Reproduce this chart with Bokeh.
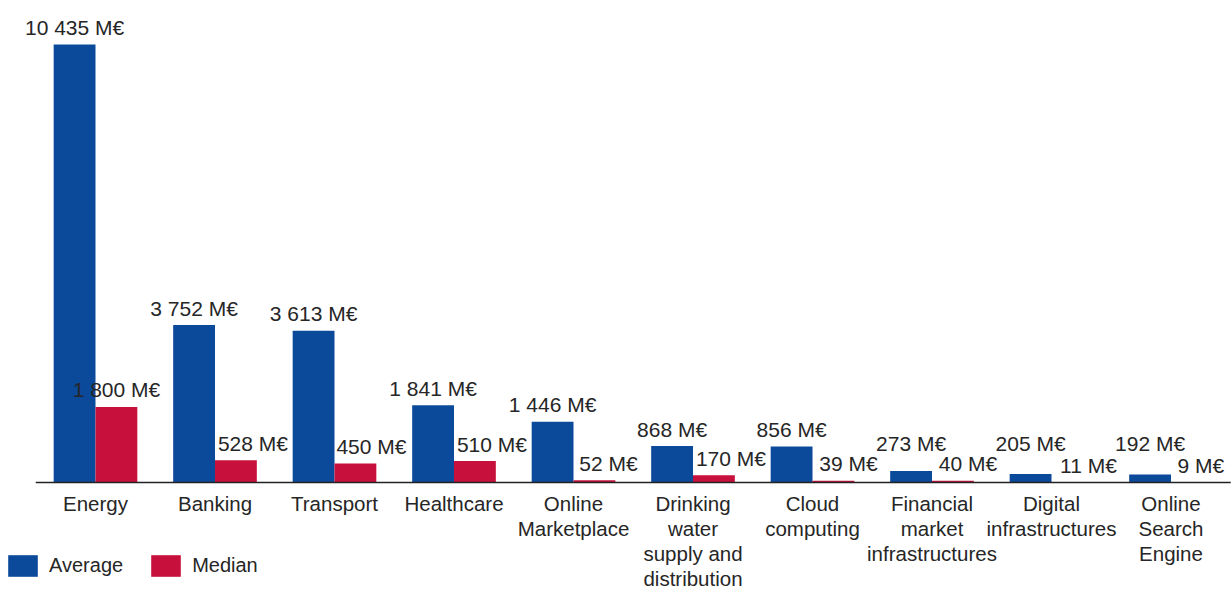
import numpy as np
from bokeh.plotting import figure
from bokeh.models import Range1d, ColumnDataSource
from bokeh.core.properties import value
from bokeh.embed import file_html
from bokeh.resources import INLINE

# ---- data ----
categories = ["Energy", "Banking", "Transport", "Healthcare",
              "Online\nMarketplace", "Drinking\nwater\nsupply and\ndistribution",
              "Cloud\ncomputing", "Financial\nmarket\ninfrastructures",
              "Digital\ninfrastructures", "Online\nSearch\nEngine"]
average = [10435, 3752, 3613, 1841, 1446, 868, 856, 273, 205, 192]
median = [1800, 528, 450, 510, 52, 170, 39, 40, 11, 9]

# ---- style ----
BLUE = "#0b4a9b"
RED = "#c8103c"
TEXT = "#262626"
FONT = "Liberation Sans"
W, H = 1232, 590
group_px = 119.5          # pixels per category
first_center_px = 95      # pixel position of first category center
baseline_px_from_bottom = 108
top_px = 44               # pixel of tallest bar top
bar_w = 0.35
median_label_dx = [0, 17, 16, 17, 14, 17, 15, 15, 16, 9]
avg_label_min_px = 22     # average labels never sit lower than this above baseline


def fmt(v):
    return f"{v:,}".replace(",", " ") + " M€"


n = len(categories)
idx = np.arange(n)
k = (H - baseline_px_from_bottom - top_px) / max(average)   # px per unit
y_start = -baseline_px_from_bottom / k
y_end = (H - baseline_px_from_bottom) / k
x_start = -first_center_px / group_px
x_end = x_start + W / group_px

p = figure(width=W, height=H, output_backend="svg", toolbar_location=None,
           x_range=Range1d(x_start, x_end), y_range=Range1d(y_start, y_end),
           x_axis_location=None, y_axis_location=None, min_border=0)
p.grid.visible = False
p.outline_line_color = None
p.background_fill_color = "white"

src = ColumnDataSource(dict(
    xa=idx - bar_w / 2, xm=idx + bar_w / 2, avg=average, med=median,
    ya=np.maximum(np.array(average, dtype=float), avg_label_min_px / k),
    la=[fmt(v) for v in average], lm=[fmt(v) for v in median],
    dx=median_label_dx, xc=idx, cat=categories))

p.vbar(x="xa", top="avg", width=bar_w, source=src, fill_color=BLUE,
       line_color=None, legend_label="Average")
p.vbar(x="xm", top="med", width=bar_w, source=src, fill_color=RED,
       line_color=None, legend_label="Median")

# baseline
p.segment(x0=[-0.5], y0=[0], x1=[n - 0.5], y1=[0], line_color="#222222", line_width=1.5)

# value labels
p.text(x="xa", y="ya", text="la", source=src, text_align="center",
       text_baseline="alphabetic", y_offset=-17, text_font=value(FONT),
       text_font_size="21px", text_color=TEXT)
p.text(x="xm", y="med", text="lm", source=src, text_align="center",
       text_baseline="alphabetic", x_offset="dx", y_offset=-17, text_font=value(FONT),
       text_font_size="21px", text_color=TEXT)

# category labels
p.text(x="xc", y=0, text="cat", source=src, text_align="center",
       text_baseline="top", y_offset=9, text_font=value(FONT),
       text_font_size="20.5px", text_color=TEXT, text_line_height=1.09)

lg = p.legend[0]
lg.orientation = "horizontal"
lg.location = (4, 11)
lg.glyph_width = 37
lg.glyph_height = 27
lg.label_standoff = 8
lg.spacing = 24
lg.padding = 0
lg.margin = 0
lg.border_line_color = None
lg.background_fill_alpha = 0
lg.label_text_font = FONT
lg.label_text_font_size = "20px"
lg.label_text_color = TEXT

open("out.html", "w").write(file_html(p, INLINE))
